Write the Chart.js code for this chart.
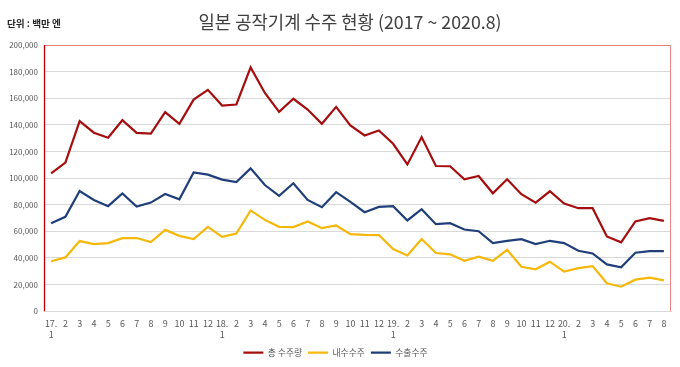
<!DOCTYPE html>
<html>
<head>
<meta charset="utf-8">
<script src="https://cdn.jsdelivr.net/npm/chart.js@4"></script>
<style>
html,body{margin:0;padding:0;background:#fff;}
#wrap{position:relative;width:680px;height:367px;}
</style>
</head>
<body>
<div id="wrap"><canvas id="c" width="680" height="367"></canvas></div>
<script>
const titleText = '일본 공작기계 수주 현황 (2017 ~ 2020.8)';
const unitText = '단위 : 백만 엔';
const categories = [
  ['17.','1'],'2','3','4','5','6','7','8','9','10','11','12',
  ['18.','1'],'2','3','4','5','6','7','8','9','10','11','12',
  ['19.','1'],'2','3','4','5','6','7','8','9','10','11','12',
  ['20.','1'],'2','3','4','5','6','7','8'
];
const totalOrders = [
  103600,111600,142800,134100,130300,143500,134000,133500,149500,140800,159000,166300,
  154500,155300,183200,164000,149800,159600,151500,140800,153500,139500,132000,135800,
  125800,110300,130800,109100,108900,99100,101600,88600,99100,87900,81600,90100,
  80900,77400,77400,56200,51700,67400,69900,67900
];
const domesticOrders = [
  37500,40400,52700,50400,51200,54900,55000,51900,61100,56600,54200,63400,
  55900,58400,75700,68600,63400,63200,67400,62400,64400,57900,57400,57200,
  46700,41900,54200,43700,42700,37900,40900,37900,46100,33400,31500,37200,
  29700,32400,33900,21000,18400,23700,25200,23200
];
const exportOrders = [
  66100,70900,90300,83600,78900,88400,78700,81600,88100,84100,104300,102600,
  98900,97100,107300,94800,86600,96100,83600,78100,89400,82100,74400,78400,
  78900,68200,76600,65400,66100,61400,60100,51200,52900,54100,50400,52900,
  51200,45400,43400,35200,33000,43900,45200,45200
];
const seriesNames = ['총 수주량','내수수주','수출수주'];
const yTicks = [0,20000,40000,60000,80000,100000,120000,140000,160000,180000,200000];

const FONT = "'Noto Sans CJK KR','Noto Sans',sans-serif";

const decor = {
  id:'decor',
  afterDraw(chart){
    const ctx = chart.ctx, a = chart.chartArea;
    ctx.save();
    ctx.strokeStyle = 'rgba(232,110,110,0.85)';
    ctx.lineWidth = 1;
    ctx.beginPath();
    ctx.moveTo(a.left+0.5, a.top+0.5);
    ctx.lineTo(a.right-0.5, a.top+0.5);
    ctx.lineTo(a.right-0.5, a.bottom);
    ctx.stroke();
    ctx.strokeStyle = '#C00000';
    ctx.lineWidth = 1.3;
    ctx.beginPath();
    ctx.moveTo(a.left+0.5, a.top);
    ctx.lineTo(a.left+0.5, a.bottom);
    ctx.stroke();
    ctx.fillStyle = '#404040';
    ctx.font = "17.8px " + FONT;
    ctx.textAlign = 'center';
    ctx.textBaseline = 'middle';
    ctx.fillText(titleText, 350, 22);
    ctx.fillStyle = '#262626';
    ctx.font = "bold 9.6px " + FONT;
    ctx.textAlign = 'left';
    ctx.fillText(unitText, 7, 23);
    ctx.restore();
  }
};

const mk = (label, data, color) => ({
  label, data, borderColor: color, backgroundColor: color,
  borderWidth: 2.2, pointRadius: 0, pointHoverRadius: 0, tension: 0, fill: false
});

new Chart(document.getElementById('c'), {
  type: 'line',
  data: {
    labels: categories,
    datasets: [
      mk(seriesNames[0], totalOrders, '#A50E0E'),
      mk(seriesNames[1], domesticOrders, '#F5B70A'),
      mk(seriesNames[2], exportOrders, '#203F7A')
    ]
  },
  options: {
    responsive: false,
    animation: false,
    devicePixelRatio: 1,
    layout: { padding: { left: 0, right: 9, top: 45, bottom: 0 } },
    plugins: {
      title: { display: false },
      tooltip: { enabled: false },
      legend: {
        position: 'bottom',
        labels: {
          usePointStyle: true,
          pointStyle: 'line',
          pointStyleWidth: 20,
          boxHeight: 8,
          color: '#595959',
          font: { size: 8.8, family: FONT },
          padding: 6
        }
      }
    },
    scales: {
      x: {
        offset: true,
        afterFit(scale){ scale.height = 31; },
        grid: { display: false, drawTicks: false },
        border: { color: '#D9D9D9' },
        ticks: {
          autoSkip: false, maxRotation: 0, minRotation: 0,
          color: '#595959', font: { size: 9, family: FONT }, padding: 7
        }
      },
      y: {
        min: 0, max: 200000,
        afterBuildTicks(scale){ scale.ticks = yTicks.map(v => ({value: v})); },
        afterFit(scale){ scale.width = 44; },
        grid: { color: '#D9D9D9', drawTicks: false },
        border: { display: false },
        ticks: {
          color: '#595959', font: { size: 8, family: FONT }, padding: 6,
          callback: v => v.toLocaleString('en-US')
        }
      }
    }
  },
  plugins: [decor]
});
</script>
</body>
</html>
